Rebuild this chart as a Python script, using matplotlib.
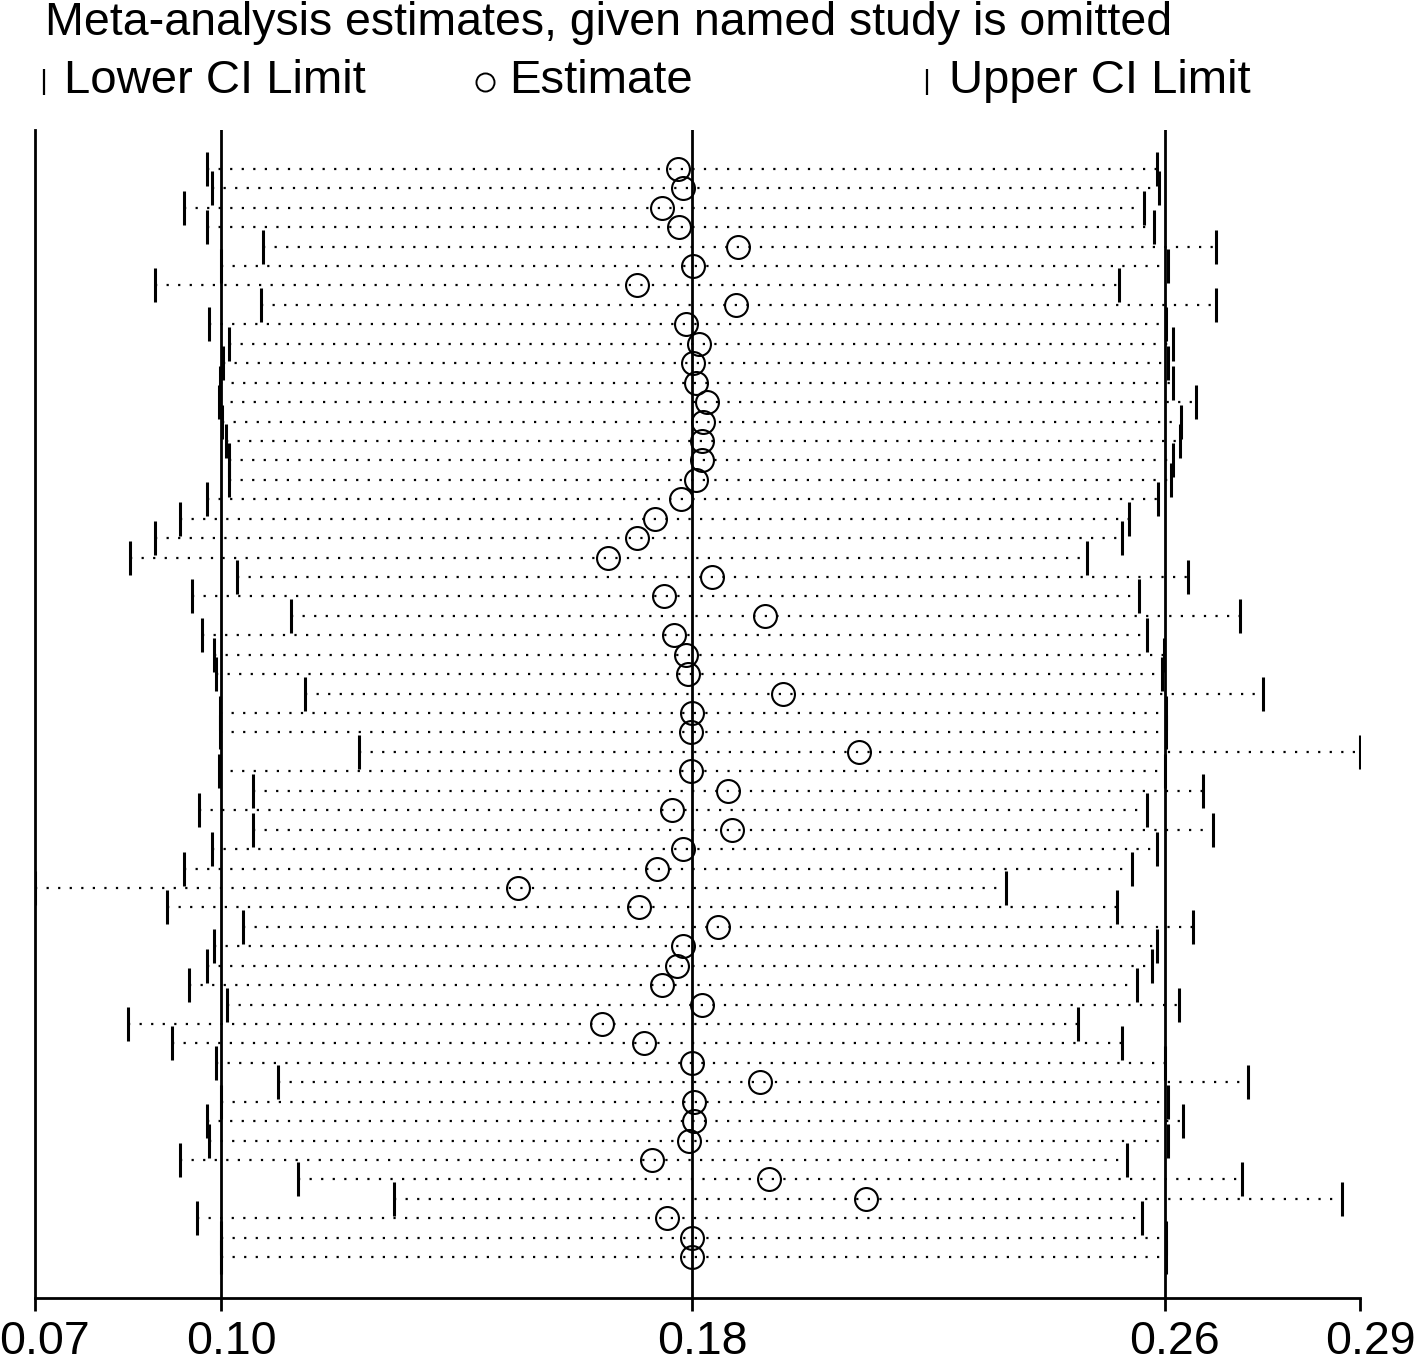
import matplotlib.pyplot as plt
import numpy as np
from matplotlib.lines import Line2D
from matplotlib.transforms import ScaledTranslation

plt.rcParams['font.family'] = ['Liberation Sans', 'DejaVu Sans']

# meta-analysis estimates with each named study omitted (57 rows, top to bottom)
estimate = [0.1768, 0.1776, 0.1741, 0.1769, 0.1867, 0.1793, 0.1700, 0.1864, 0.1781, 0.1803,
            0.1793, 0.1798, 0.1816, 0.1809, 0.1807, 0.1807, 0.1798, 0.1773, 0.1729, 0.1700,
            0.1651, 0.1824, 0.1744, 0.1912, 0.1761, 0.1781, 0.1784, 0.1942, 0.1791, 0.1789,
            0.2068, 0.1789, 0.1851, 0.1758, 0.1857, 0.1776, 0.1733, 0.1502, 0.1703, 0.1834,
            0.1776, 0.1766, 0.1741, 0.1807, 0.1641, 0.1711, 0.1791, 0.1904, 0.1794, 0.1794,
            0.1786, 0.1724, 0.1919, 0.2080, 0.1749, 0.1791, 0.1791]
lower_ci = [0.0986, 0.0994, 0.0947, 0.0986, 0.1079, 0.1009, 0.0899, 0.1075, 0.0989, 0.1022,
            0.1012, 0.1007, 0.1006, 0.1010, 0.1017, 0.1022, 0.1022, 0.0986, 0.0941, 0.0899,
            0.0858, 0.1035, 0.0961, 0.1125, 0.0977, 0.0997, 0.1001, 0.1148, 0.1007, 0.1007,
            0.1238, 0.1006, 0.1062, 0.0972, 0.1062, 0.0994, 0.0947, 0.0700, 0.0919, 0.1045,
            0.0997, 0.0986, 0.0956, 0.1019, 0.0854, 0.0927, 0.1001, 0.1103, 0.1009, 0.0986,
            0.0989, 0.0941, 0.1137, 0.1296, 0.0969, 0.1009, 0.1009]
upper_ci = [0.2563, 0.2566, 0.2541, 0.2558, 0.2661, 0.2581, 0.2500, 0.2661, 0.2578, 0.2590,
            0.2581, 0.2590, 0.2628, 0.2603, 0.2601, 0.2590, 0.2586, 0.2565, 0.2517, 0.2505,
            0.2447, 0.2614, 0.2533, 0.2701, 0.2546, 0.2575, 0.2571, 0.2739, 0.2578, 0.2578,
            0.2900, 0.2576, 0.2639, 0.2546, 0.2656, 0.2563, 0.2521, 0.2312, 0.2497, 0.2623,
            0.2563, 0.2555, 0.2530, 0.2600, 0.2432, 0.2505, 0.2576, 0.2714, 0.2581, 0.2606,
            0.2581, 0.2513, 0.2704, 0.2870, 0.2538, 0.2578, 0.2578]

# combined estimate and its CI, plus axis range
overall = [0.1009, 0.1791, 0.2576]
x_range = [0.07, 0.29]
tick_values = [0.07, 0.1009, 0.1791, 0.2576, 0.29]
tick_labels = ['0.07', '0.10', '0.18', '0.26', '0.29']

rows = np.arange(1, len(estimate) + 1)

fig = plt.figure(figsize=(14.18, 13.63), dpi=100)
ax = fig.add_axes([35/1418, 1 - 1298/1363, 1325/1418, 1168/1363])

ax.hlines(rows, lower_ci, upper_ci, colors='k', linestyles=(0, (1, 4.2)), lw=1.6)
for v in overall:
    ax.axvline(v, color='k', lw=2)
ax.plot(lower_ci, rows, ls='none', marker='|', ms=24, mew=2.2, color='k')
ax.plot(upper_ci, rows, ls='none', marker='|', ms=24, mew=2.2, color='k')
ax.plot(estimate, rows, ls='none', marker='o', ms=16.5, mfc='none', mec='k', mew=1.5)

ax.set_xlim(x_range)
ax.set_ylim(59.1, -1.0)
ax.set_yticks([])
ax.set_xticks(tick_values)
ax.set_xticklabels(tick_labels)
ax.tick_params(axis='x', length=9, width=2, labelsize=33.5, pad=7)
for lab in ax.get_xticklabels():
    lab.set_transform(lab.get_transform() + ScaledTranslation(0.10, 0, fig.dpi_scale_trans))
for s in ['top', 'right']:
    ax.spines[s].set_visible(False)
for s in ['left', 'bottom']:
    ax.spines[s].set_linewidth(2)

fig.text(45/1418, 1 - 35/1363, 'Meta-analysis estimates, given named study is omitted',
         fontsize=33.5, va='baseline', ha='left')

ly = 1 - 93/1363
fig.text(64/1418, ly, 'Lower CI Limit', fontsize=34, va='baseline')
fig.text(509/1418, ly, 'Estimate', fontsize=34, va='baseline')
fig.text(949/1418, ly, 'Upper CI Limit', fontsize=34, va='baseline')
my = 1 - 82/1363
fig.add_artist(Line2D([44/1418], [my], transform=fig.transFigure, marker='|', ms=19, mew=1.6, color='k', ls='none'))
fig.add_artist(Line2D([485/1418], [my], transform=fig.transFigure, marker='o', ms=13, mfc='none', mec='k', mew=1.4, ls='none'))
fig.add_artist(Line2D([927/1418], [my], transform=fig.transFigure, marker='|', ms=19, mew=1.6, color='k', ls='none'))

fig.savefig('out.png', dpi=100)
